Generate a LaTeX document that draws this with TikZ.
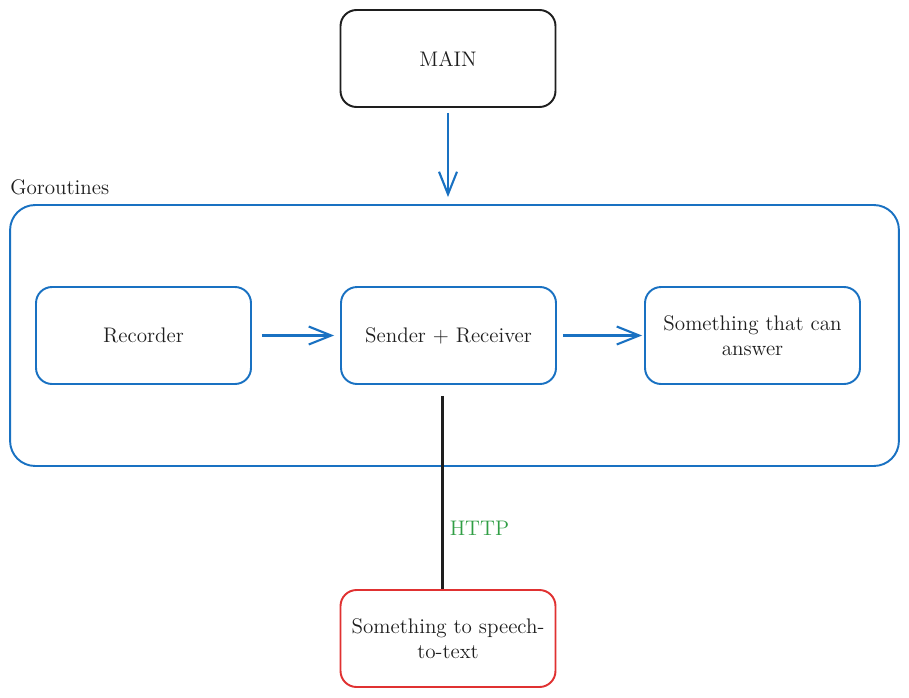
\documentclass[tikz,border=0pt]{standalone}
\usepackage{tikz}
\usetikzlibrary{arrows.meta}
\definecolor{xblue}{HTML}{1971C2}
\definecolor{xred}{HTML}{E03131}
\definecolor{xgreen}{HTML}{2F9E44}
\definecolor{xblack}{HTML}{1E1E1E}

\begin{document}
\begin{tikzpicture}[x=0.02cm, y=-0.02cm, font=\large,
    box/.style={draw, line width=1.1pt, rounded corners=0.32cm, minimum width=4.3cm, minimum height=1.94cm, align=center, text=xblack},
    flow/.style={draw=xblue, line width=1.2pt, -{Straight Barb[length=4.5mm, width=3.6mm, line width=1.2pt]}}]
        \useasboundingbox (0,0) rectangle (909,697);
        % Define the nodes
        \node[box, draw=xblack] (main) at (448,58.5) {MAIN};
        \node[box, draw=xblue, minimum width=17.78cm, minimum height=5.22cm, rounded corners=0.5cm] (frame) at (454.5,335.5) {};
        \node[anchor=west, inner sep=0pt, text=xblack] (glabel) at (10,187) {Goroutines};
        \node[box, draw=xblue] (rec) at (143.5,335.5) {Recorder};
        \node[box, draw=xblue] (sr) at (448.5,335.5) {Sender + Receiver};
        \node[box, draw=xblue, text width=4cm] (ans) at (752.5,335.5) {Something that can\\answer};
        \node[box, draw=xred] (stt) at (448,638.5) {Something to speech-\\to-text};

        \begin{scope}
        \draw[flow, shorten <=0.1cm, shorten >=0.14cm] (main.south) -- (main.south |- frame.north);
        \draw[flow, shorten <=0.2cm, shorten >=0.12cm] (rec.east) -- (sr.west);
        \draw[flow, shorten <=0.12cm, shorten >=0.04cm] (sr.east) -- (ans.west);
        \draw[xblack, line width=1.6pt, shorten <=0.22cm] ([xshift=-0.12cm]sr.south) -- ([xshift=-0.12cm]sr.south |- stt.north)
            node[pos=0.7, right, text=xgreen] (http) {HTTP};
        \end{scope}

    \end{tikzpicture}
\end{document}
